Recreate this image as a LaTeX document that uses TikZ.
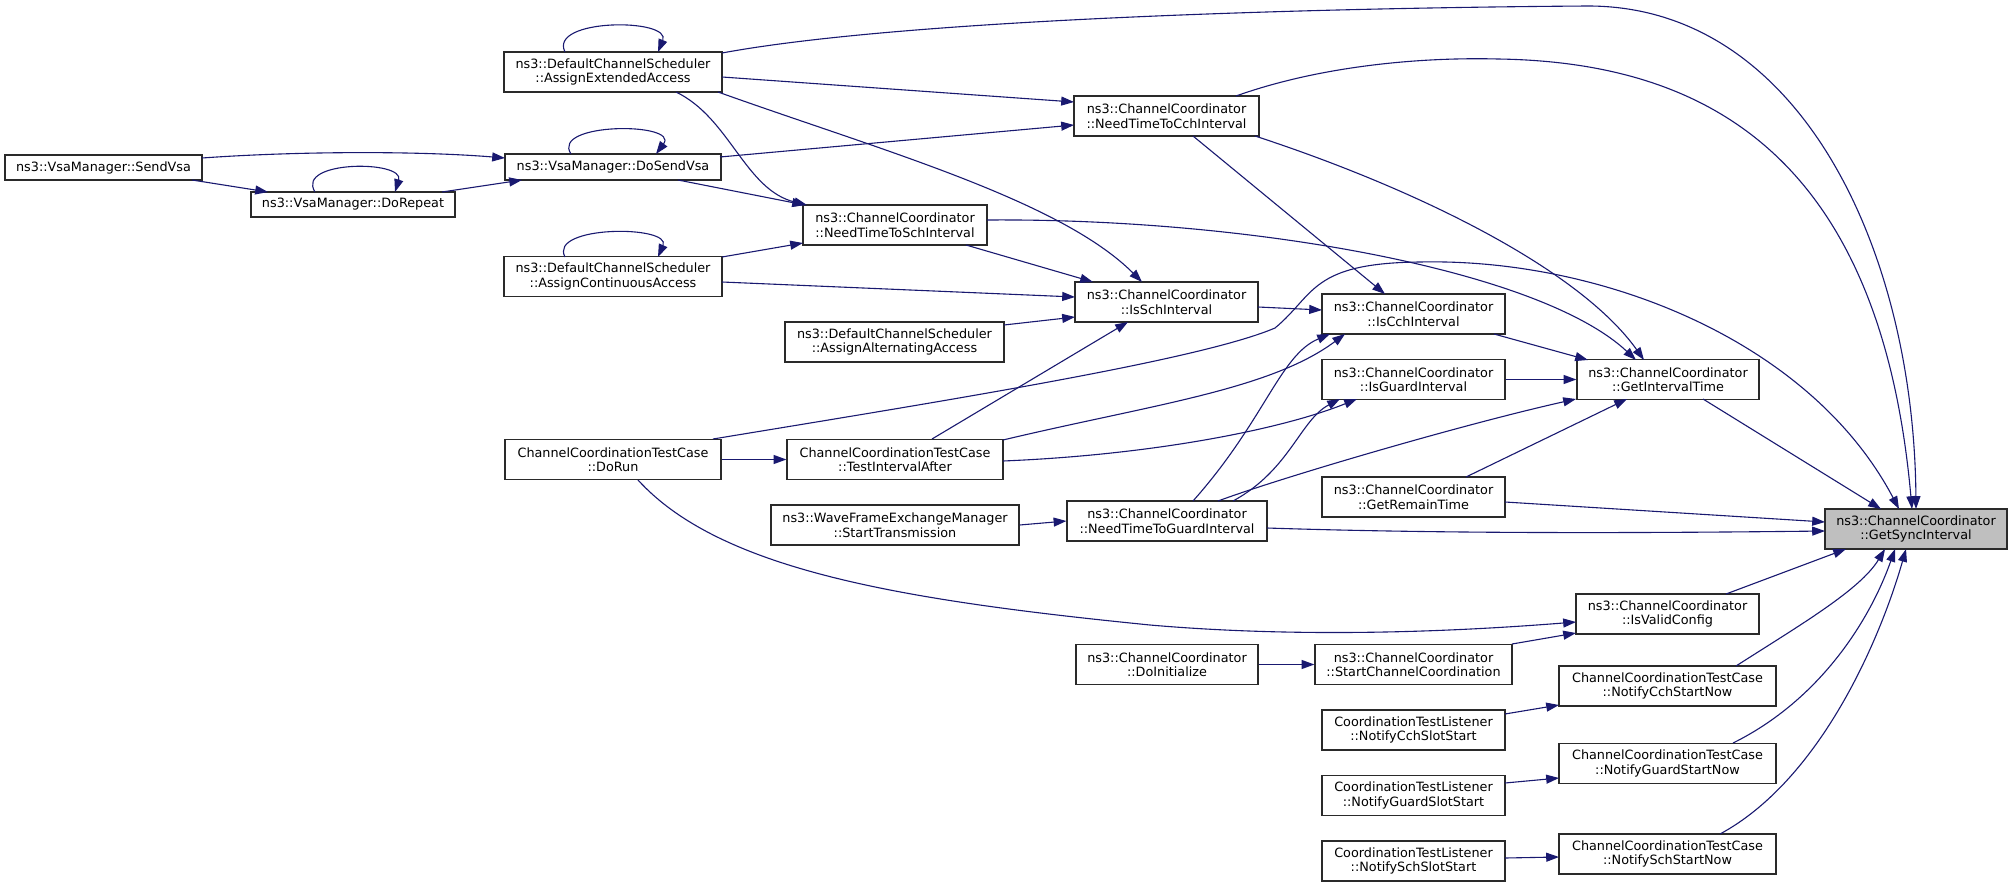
\documentclass[tikz,border=0pt]{standalone}
\usepackage{fontspec}
\newfontfamily\dvs{DejaVu Sans}
\usetikzlibrary{arrows.meta,calc}
\definecolor{edgeblue}{HTML}{191970}
\definecolor{gsifill}{HTML}{BFBFBF}
\definecolor{boxline}{HTML}{2A2A2A}
\begin{document}
\begin{tikzpicture}[x=1pt,y=-1pt,
  box/.style={draw=boxline,line width=1.2pt,fill=white,inner sep=0pt,
    minimum height=40pt,align=center,font=\dvs\fontsize{12.8pt}{14.5pt}\selectfont},
  e/.style={draw=edgeblue,line width=1.1pt,-{Triangle[length=12.8pt,width=9pt]}}]
\fill[white] (0,0) rectangle (2013,886);
\useasboundingbox (0,0) rectangle (2013,886);

% nodes
\node[box,minimum width=197pt,minimum height=25pt] (SV) at (103.5,167.5) {ns3::VsaManager::SendVsa};
\node[box,minimum width=204pt,minimum height=25pt] (DR) at (353,204.5) {ns3::VsaManager::DoRepeat};
\node[box,minimum width=218pt] (AEA) at (613,72) {ns3::DefaultChannelScheduler\\::AssignExtendedAccess};
\node[box,minimum width=216pt,minimum height=26pt] (DSV) at (613,167) {ns3::VsaManager::DoSendVsa};
\node[box,minimum width=218pt] (ACA) at (613,276.5) {ns3::DefaultChannelScheduler\\::AssignContinuousAccess};
\node[box,minimum width=216pt] (DoRun) at (613,459.5) {ChannelCoordinationTestCase\\::DoRun};
\node[box,minimum width=184pt] (NTTSch) at (895,225) {ns3::ChannelCoordinator\\::NeedTimeToSchInterval};
\node[box,minimum width=219pt] (AAA) at (894.5,342) {ns3::DefaultChannelScheduler\\::AssignAlternatingAccess};
\node[box,minimum width=216pt] (TIA) at (895,459.5) {ChannelCoordinationTestCase\\::TestIntervalAfter};
\node[box,minimum width=248pt] (ST) at (895,525) {ns3::WaveFrameExchangeManager\\::StartTransmission};
\node[box,minimum width=185pt] (NTTCch) at (1166.5,116) {ns3::ChannelCoordinator\\::NeedTimeToCchInterval};
\node[box,minimum width=183pt] (IsSch) at (1166.5,302) {ns3::ChannelCoordinator\\::IsSchInterval};
\node[box,minimum width=200pt] (NTTG) at (1167,521) {ns3::ChannelCoordinator\\::NeedTimeToGuardInterval};
\node[box,minimum width=182pt] (DoInit) at (1167,664.5) {ns3::ChannelCoordinator\\::DoInitialize};
\node[box,minimum width=183pt] (IsCch) at (1413.5,314) {ns3::ChannelCoordinator\\::IsCchInterval};
\node[box,minimum width=183pt] (IsG) at (1413.5,379.5) {ns3::ChannelCoordinator\\::IsGuardInterval};
\node[box,minimum width=183pt] (GRT) at (1413.5,497) {ns3::ChannelCoordinator\\::GetRemainTime};
\node[box,minimum width=197pt] (SCC) at (1413.5,664.5) {ns3::ChannelCoordinator\\::StartChannelCoordination};
\node[box,minimum width=183pt] (NCSS) at (1413.5,730) {CoordinationTestListener\\::NotifyCchSlotStart};
\node[box,minimum width=183pt] (NGSS) at (1413.5,795.5) {CoordinationTestListener\\::NotifyGuardSlotStart};
\node[box,minimum width=183pt] (NSSS) at (1413.5,861) {CoordinationTestListener\\::NotifySchSlotStart};
\node[box,minimum width=182pt] (GIT) at (1668,379.5) {ns3::ChannelCoordinator\\::GetIntervalTime};
\node[box,minimum width=183pt] (IVC) at (1667.5,614) {ns3::ChannelCoordinator\\::IsValidConfig};
\node[box,minimum width=217pt] (NCSN) at (1667.5,686) {ChannelCoordinationTestCase\\::NotifyCchStartNow};
\node[box,minimum width=217pt] (NGSN) at (1667.5,763.5) {ChannelCoordinationTestCase\\::NotifyGuardStartNow};
\node[box,minimum width=217pt] (NSSN) at (1667.5,854) {ChannelCoordinationTestCase\\::NotifySchStartNow};
\node[box,minimum width=182pt,fill=gsifill] (GSI) at (1916,529) {ns3::ChannelCoordinator\\::GetSyncInterval};

% edges
\draw[e] ($(SV)+(98.5,-9.5)$) .. controls (300,151) and (420,151) .. ($(DSV)+(-108,-9)$);
\draw[e] ($(SV)+(88.5,12.5)$) -- ($(DR)+(-85,-12.5)$);
\draw[e] ($(DR)+(-38,-12.5)$) .. controls (295,160) and (405,160) .. ($(DR)+(42,-12.5)$);
\draw[e] ($(DR)+(89,-12.5)$) -- ($(DSV)+(-91,13)$);
\draw[e] ($(DSV)+(-42,-13)$) .. controls (550,122) and (680,122) .. ($(DSV)+(43,-13)$);
\draw[e] ($(DSV)+(107,-10)$) -- ($(NTTCch)+(-92.5,9)$);
\draw[e] ($(DSV)+(65,13)$) -- ($(NTTSch)+(-90,-20)$);
\draw[e] ($(AEA)+(-48,-20)$) .. controls (548,18) and (672,18) .. ($(AEA)+(45,-20)$);
\draw[e] ($(AEA)+(109,-19)$) .. controls (900,20) and (1300,8) .. (1588,6)
   .. controls (1800,6) and (1914,250) .. ($(GSI)+(0,-20)$);
\draw[e] ($(AEA)+(109,5)$) -- ($(NTTCch)+(-92.5,-14)$);
\draw[e] ($(AEA)+(105,20)$) .. controls (880,150) and (1060,200) .. ($(IsSch)+(-24.5,-20)$);
\draw[e] ($(AEA)+(63,20)$) .. controls (730,118) and (745,190) .. ($(NTTSch)+(-88,-20)$);
\draw[e] ($(ACA)+(-48,-19.5)$) .. controls (548,225) and (672,225) .. ($(ACA)+(45,-19.5)$);
\draw[e] ($(ACA)+(109,-19.5)$) -- ($(NTTSch)+(-92,18)$);
\draw[e] ($(ACA)+(109,5.5)$) -- ($(IsSch)+(-91.5,-5)$);
\draw[e] ($(NTTSch)+(71,20)$) -- ($(IsSch)+(-73.5,-20)$);
\draw[e] ($(NTTSch)+(92,-5)$) .. controls (1250,218) and (1540,270) .. ($(GIT)+(-32,-19.5)$);
\draw[e] ($(NTTCch)+(69.5,-20)$) .. controls (1320,66) and (1420,57) .. (1498,59)
   .. controls (1700,62) and (1880,150) .. ($(GSI)+(-4,-20)$);
\draw[e] ($(NTTCch)+(26.5,20)$) -- ($(IsCch)+(-28.5,-20)$);
\draw[e] ($(NTTCch)+(88.5,20)$) .. controls (1420,190) and (1580,270) .. ($(GIT)+(-24,-19.5)$);
\draw[e] ($(AAA)+(109.5,-17)$) -- ($(IsSch)+(-91.5,15)$);
\draw[e] ($(IsSch)+(91.5,5)$) -- ($(IsCch)+(-91.5,-4)$);
\draw[e] ($(IsCch)+(80.5,20)$) -- ($(GIT)+(-80,-19.5)$);
\draw[e] (IsG.east) -- (GIT.west);
\draw[e] ($(GIT)+(35,19.5)$) -- ($(GSI)+(-35,-20)$);
\draw[e] ($(GRT)+(52.5,-20)$) -- ($(GIT)+(-41,19.5)$);
\draw[e] ($(GRT)+(91.5,5)$) -- ($(GSI)+(-91,-7)$);
\draw[e] ($(NTTG)+(100,7)$) .. controls (1450,534) and (1650,533) .. ($(GSI)+(-91,2)$);
\draw[e] ($(NTTG)+(51,-20)$) .. controls (1280,478) and (1460,425) .. ($(GIT)+(-92,19.5)$);
\draw[e] ($(NTTG)+(26,-20)$) .. controls (1265,420) and (1280,355) .. ($(IsCch)+(-83.5,20)$);
\draw[e] ($(NTTG)+(66,-20)$) .. controls (1290,470) and (1300,420) .. ($(IsG)+(-73.5,19.5)$);
\draw[e] ($(TIA)+(37,-20.5)$) -- ($(IsSch)+(-38.5,20)$);
\draw[e] ($(TIA)+(108,-19.5)$) .. controls (1150,405) and (1270,390) .. ($(IsCch)+(-68.5,20)$);
\draw[e] ($(TIA)+(108,1.5)$) .. controls (1150,455) and (1280,430) .. ($(IsG)+(-56.5,19.5)$);
\draw[e] (DoRun.east) -- (TIA.west);
\draw[e] ($(DoRun)+(100,-20.5)$) .. controls (950,400) and (1200,360) .. (1275,328)
   .. controls (1315,295) and (1310,263) .. (1420,262)
   .. controls (1600,258) and (1810,340) .. ($(GSI)+(-17,-20)$);
\draw[e] ($(DoRun)+(25,20.5)$) .. controls (720,570) and (900,600) .. (1150,625)
   .. controls (1300,638) and (1450,632) .. ($(IVC)+(-91.5,8)$);
\draw[e] (ST.east) -- (NTTG.west);
\draw[e] (DoInit.east) -- (SCC.west);
\draw[e] ($(SCC)+(98.5,-20.5)$) -- ($(IVC)+(-91.5,19)$);
\draw[e] ($(IVC)+(58.5,-20)$) -- ($(GSI)+(-70,20)$);
\draw[e] ($(NCSS)+(91.5,-16)$) -- ($(NCSN)+(-108.5,19)$);
\draw[e] ($(NGSS)+(91.5,-12.5)$) -- ($(NGSN)+(-108.5,14.5)$);
\draw[e] ($(NSSS)+(91.5,-3)$) -- ($(NSSN)+(-108.5,3)$);
\draw[e] ($(NCSN)+(68.5,-20)$) .. controls (1800,625) and (1860,590) .. ($(GSI)+(-31,20)$);
\draw[e] ($(NGSN)+(65.5,-20.5)$) .. controls (1820,700) and (1870,620) .. ($(GSI)+(-21,20)$);
\draw[e] ($(NSSN)+(52.5,-20)$) .. controls (1820,780) and (1880,640) .. ($(GSI)+(-10,20)$);
\end{tikzpicture}
\end{document}
